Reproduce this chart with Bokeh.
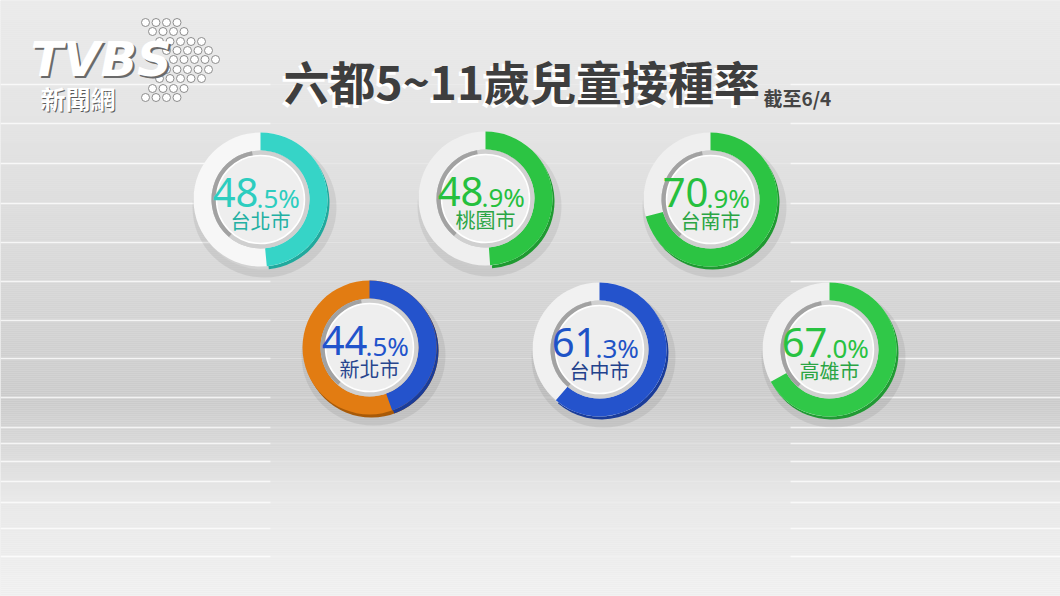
import numpy as np
from bokeh.plotting import figure
from bokeh.models import Range1d, ColumnDataSource
from bokeh.core.properties import value
from bokeh.embed import file_html
from bokeh.resources import INLINE

# ---------------- data ----------------
cities = ["台北市", "桃園市", "台南市", "新北市", "台中市", "高雄市"]
rates = [48.5, 48.9, 70.9, 44.5, 61.3, 67.0]
title_text = "六都5~11歲兒童接種率"
subtitle_text = "截至6/4"
logo_text = "TVBS"
logo_sub = "新聞網"

# ---------------- styles / layout ----------------
fill_colors = ["#36d4c7", "#2cc443", "#2cc443", "#2453cc", "#2453cc", "#30c848"]
side_colors = ["#20a99d", "#1f9a31", "#1f9a31", "#1a3c99", "#1a3c99", "#219a34"]
rest_colors = ["#f7f7f7", "#efefef", "#efefef", "#e27c12", "#f1f1f1", "#f0f0f0"]
rest_side = ["#d2d2d2", "#cbcbcb", "#cbcbcb", "#a85a08", "#cbcbcb", "#cbcbcb"]
num_colors = ["#2dcdbf", "#26c03e", "#26c03e", "#2153cb", "#1e53c6", "#28c241"]
lab_colors = ["#22b0a3", "#2aa544", "#2aa544", "#28468e", "#22418c", "#2aa544"]
cx_img = [260, 485, 710, 369, 599, 829]
cy_img = [199, 198, 199, 347, 349, 349]

W, H = 1060, 596


def fy(Y):
    return H - Y


p = figure(width=W, height=H, x_range=Range1d(0, W), y_range=Range1d(0, H),
           output_backend="svg", toolbar_location=None,
           x_axis_location=None, y_axis_location=None, min_border=0)
p.grid.visible = False
p.outline_line_color = None
p.background_fill_color = "#e4e4e4"
p.border_fill_color = "#e4e4e4"

# ---------------- background gradient ----------------
stops_Y = [0, 60, 130, 250, 330, 400, 440, 500, 596]
stops_v = [236, 233, 228, 218, 210, 203, 215, 234, 243]
band_top = np.arange(0, 596, 2)
vals = np.interp(band_top + 1, stops_Y, stops_v).astype(int)
cols = ["#%02x%02x%02x" % (v, v, v) for v in vals]
p.quad(left=0, right=W, top=[fy(b) for b in band_top], bottom=[fy(b + 2) for b in band_top],
       fill_color=cols, line_color=None)

# decorative stripes
stripe_Y = [84, 123, 163, 203, 242, 281, 320, 358, 397, 427, 443, 461, 481, 502, 528, 556]
sy = [fy(v) for v in stripe_Y]
n = len(sy)
p.segment(x0=[0] * n, x1=[270] * n, y0=sy, y1=sy, line_color="white", line_alpha=0.75, line_width=1.5)
p.segment(x0=[790] * n, x1=[W] * n, y0=sy, y1=sy, line_color="white", line_alpha=0.75, line_width=1.5)
p.segment(x0=[270] * n, x1=[790] * n, y0=sy, y1=sy, line_color="white", line_alpha=0.2, line_width=1.2)

# ---------------- logo ----------------
dx, dyy = [], []
rows_Y = [22, 31, 41, 50, 59, 69, 78, 88, 97]
for i, Y in enumerate(rows_Y):
    off = (4 - abs(i - 4)) * 7
    k = 5 if abs(i - 4) <= 2 else 4
    for j in range(k):
        dx.append(145 + off + j * 10.5)
        dyy.append(fy(Y))
p.scatter(x=dx, y=dyy, size=8, marker="circle", fill_color="white", line_color="#8c8c8c", line_width=1)
p.text(x=[32], y=[fy(60)], text=[logo_text], text_font=value("DejaVu Sans"), text_font_style="bold italic",
       text_font_size="48px", text_color="#6a6a6a", text_baseline="middle")
p.text(x=[30], y=[fy(58)], text=[logo_text], text_font=value("DejaVu Sans"), text_font_style="bold italic",
       text_font_size="48px", text_color="white", text_baseline="middle")
p.text(x=[41], y=[fy(98)], text=[logo_sub], text_font=value("Noto Sans CJK TC"), text_font_style="bold",
       text_font_size="25px", text_color="#5a5a5a", text_baseline="middle")
p.text(x=[40], y=[fy(97)], text=[logo_sub], text_font=value("Noto Sans CJK TC"), text_font_style="bold",
       text_font_size="25px", text_color="white", text_baseline="middle")

# ---------------- title ----------------
p.text(x=[280], y=[fy(82)], text=[title_text], text_font=value("Noto Sans CJK TC"), text_font_style="bold",
       text_font_size="46px", text_color="#ffffff", text_baseline="middle")
p.text(x=[283], y=[fy(79)], text=[title_text], text_font=value("Noto Sans CJK TC"), text_font_style="bold",
       text_font_size="46px", text_color="#3e3e3e", text_baseline="middle")
p.text(x=[763], y=[fy(97)], text=[subtitle_text], text_font=value("Noto Sans CJK TC"), text_font_style="bold",
       text_font_size="19px", text_color="#454545", text_baseline="middle")

# ---------------- donuts ----------------
R_OUT, R_IN, R_RIM = 67, 49, 44
cx = np.array(cx_img, dtype=float)
cy = np.array([fy(v) for v in cy_img], dtype=float)
frac = np.array(rates) / 100.0
start = np.full(len(rates), np.pi / 2)
end = np.pi / 2 - 2 * np.pi * frac

# soft shadow
p.ellipse(x=cx + 4, y=cy - 8, width=2 * R_OUT + 10, height=2 * R_OUT + 6, fill_color="#000000",
          fill_alpha=0.07, line_color=None)
# depth (side) of ring
p.annular_wedge(x=cx + 2, y=cy - 3, inner_radius=R_IN, outer_radius=R_OUT, start_angle=0, end_angle=2 * np.pi,
                fill_color=rest_side, line_color=None)
p.annular_wedge(x=cx + 2, y=cy - 3, inner_radius=R_IN, outer_radius=R_OUT, start_angle=start, end_angle=end,
                direction="clock", fill_color=side_colors, line_color=None)
# face of ring
p.annular_wedge(x=cx, y=cy, inner_radius=R_IN, outer_radius=R_OUT, start_angle=0, end_angle=2 * np.pi,
                fill_color=rest_colors, line_color=None)
p.annular_wedge(x=cx, y=cy, inner_radius=R_IN, outer_radius=R_OUT, start_angle=start, end_angle=end,
                direction="clock", fill_color=fill_colors, line_color=None)
# metallic rim
p.annular_wedge(x=cx, y=cy, inner_radius=R_RIM, outer_radius=R_IN, start_angle=0, end_angle=2 * np.pi,
                fill_color="#d0d0d0", line_color=None)
p.annular_wedge(x=cx, y=cy, inner_radius=R_RIM, outer_radius=R_IN, start_angle=np.radians(100),
                end_angle=np.radians(230), fill_color="#a2a2a2", line_color=None)
p.circle(x=cx, y=cy, radius=R_RIM, fill_color="#eeeeee", line_color="white", line_width=1.5)

# texts
int_parts = [("%.1f" % r).split(".")[0] for r in rates]
dec_parts = ["." + ("%.1f" % r).split(".")[1] + "%" for r in rates]
src = ColumnDataSource(dict(
    xs=cx - 2, xd=cx - 4,
    ynum=np.array([fy(v - 7) for v in cy_img]),
    ydec=np.array([fy(v - 2) for v in cy_img]),
    ylab=np.array([fy(v + 21) for v in cy_img]),
    xc=cx, ints=int_parts, decs=dec_parts, labs=cities, nc=num_colors, lc=lab_colors))
p.text(x="xs", y="ynum", text="ints", source=src, text_font=value("Noto Sans"), text_font_size="40px",
       text_color="nc", text_align="right", text_baseline="middle")
p.text(x="xd", y="ydec", text="decs", source=src, text_font=value("Noto Sans"), text_font_size="26px",
       text_color="nc", text_align="left", text_baseline="middle")
p.text(x="xc", y="ylab", text="labs", source=src, text_font=value("Noto Sans CJK TC"), text_font_size="20px",
       text_color="lc", text_align="center", text_baseline="middle")

open("out.html", "w").write(file_html(p, INLINE))
